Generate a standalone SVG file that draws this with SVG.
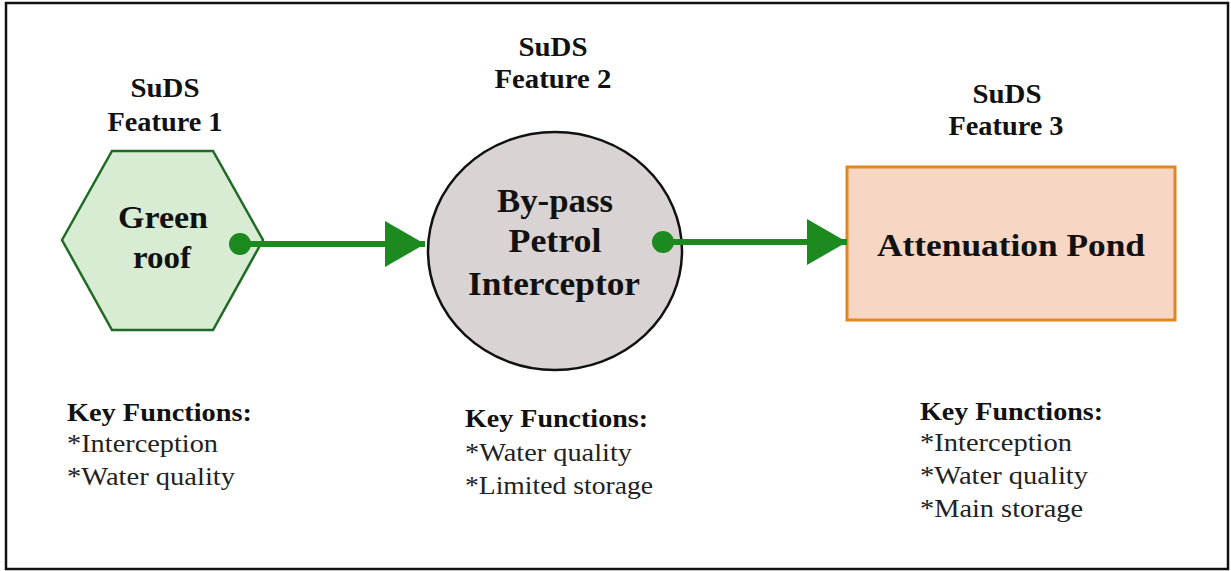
<svg xmlns="http://www.w3.org/2000/svg" width="1231" height="571" viewBox="0 0 1231 571">
  <style>
    text { font-family: 'Liberation Serif', 'Times New Roman', Times, serif; }
    .title { font-weight: bold; font-size: 27px; fill: #111; text-anchor: middle; }
    .label { font-weight: bold; fill: #111; text-anchor: middle; }
    .head { font-weight: bold; font-size: 26px; fill: #111; }
    .item { font-size: 26px; fill: #222; }
    .flow { stroke: #1c8a1f; stroke-width: 6; fill: none; }
    .dot { fill: #1c8a1f; }
  </style>
  <defs>
    <marker id="arrow" viewBox="0 0 40 46" refX="40" refY="23" markerWidth="40" markerHeight="46" markerUnits="userSpaceOnUse" orient="auto">
      <path d="M0,0 L40,23 L0,46 Z" fill="#1c8a1f"/>
    </marker>
  </defs>

  <!-- outer frame -->
  <rect x="6" y="3" width="1222" height="566" fill="#ffffff" stroke="#111" stroke-width="2.5"/>

  <!-- Feature 1: green roof -->
  <g id="feature1">
    <text class="title" x="165" y="97" textLength="69" lengthAdjust="spacingAndGlyphs">SuDS</text>
    <text class="title" x="165" y="131" textLength="115" lengthAdjust="spacingAndGlyphs">Feature 1</text>
    <polygon points="62,240 112,151 213,151 263,240 213,330 112,330" fill="#d8ebd3" stroke="#1f6a25" stroke-width="2.5"/>
    <text class="label" x="163" y="228" font-size="32" textLength="90" lengthAdjust="spacingAndGlyphs">Green</text>
    <text class="label" x="162" y="268" font-size="32" textLength="58" lengthAdjust="spacingAndGlyphs">roof</text>
    <text class="head" x="67" y="421" textLength="185" lengthAdjust="spacingAndGlyphs">Key Functions:</text>
    <text class="item" x="67" y="452" textLength="151" lengthAdjust="spacingAndGlyphs">*Interception</text>
    <text class="item" x="67" y="485" textLength="168" lengthAdjust="spacingAndGlyphs">*Water quality</text>
  </g>

  <!-- Feature 2: by-pass petrol interceptor -->
  <g id="feature2">
    <text class="title" x="553" y="56" textLength="69" lengthAdjust="spacingAndGlyphs">SuDS</text>
    <text class="title" x="553" y="88" textLength="117" lengthAdjust="spacingAndGlyphs">Feature 2</text>
    <ellipse cx="555" cy="251" rx="127" ry="119" fill="#d9d3d3" stroke="#111" stroke-width="2.5"/>
    <text class="label" x="555" y="212" font-size="33" textLength="116" lengthAdjust="spacingAndGlyphs">By-pass</text>
    <text class="label" x="555" y="252" font-size="33" textLength="93" lengthAdjust="spacingAndGlyphs">Petrol</text>
    <text class="label" x="554" y="295" font-size="33" textLength="172" lengthAdjust="spacingAndGlyphs">Interceptor</text>
    <text class="head" x="465" y="427" textLength="183" lengthAdjust="spacingAndGlyphs">Key Functions:</text>
    <text class="item" x="465" y="461" textLength="167" lengthAdjust="spacingAndGlyphs">*Water quality</text>
    <text class="item" x="465" y="494" textLength="188" lengthAdjust="spacingAndGlyphs">*Limited storage</text>
  </g>

  <!-- Feature 3: attenuation pond -->
  <g id="feature3">
    <text class="title" x="1007" y="103" textLength="69" lengthAdjust="spacingAndGlyphs">SuDS</text>
    <text class="title" x="1006" y="135" textLength="115" lengthAdjust="spacingAndGlyphs">Feature 3</text>
    <rect x="847" y="167" width="328" height="153" fill="#f8d6c4" stroke="#e3861f" stroke-width="3"/>
    <text class="label" x="1011" y="256" font-size="32" textLength="268" lengthAdjust="spacingAndGlyphs">Attenuation Pond</text>
    <text class="head" x="920" y="420" textLength="183" lengthAdjust="spacingAndGlyphs">Key Functions:</text>
    <text class="item" x="920" y="451" textLength="152" lengthAdjust="spacingAndGlyphs">*Interception</text>
    <text class="item" x="920" y="484" textLength="168" lengthAdjust="spacingAndGlyphs">*Water quality</text>
    <text class="item" x="920" y="517" textLength="163" lengthAdjust="spacingAndGlyphs">*Main storage</text>
  </g>

  <!-- flow connectors -->
  <g id="connectors">
    <circle class="dot" cx="240" cy="244" r="11"/>
    <line class="flow" x1="240" y1="244" x2="425" y2="244" marker-end="url(#arrow)"/>
    <circle class="dot" cx="663" cy="242" r="11"/>
    <line class="flow" x1="663" y1="242" x2="847" y2="242" marker-end="url(#arrow)"/>
  </g>
</svg>
